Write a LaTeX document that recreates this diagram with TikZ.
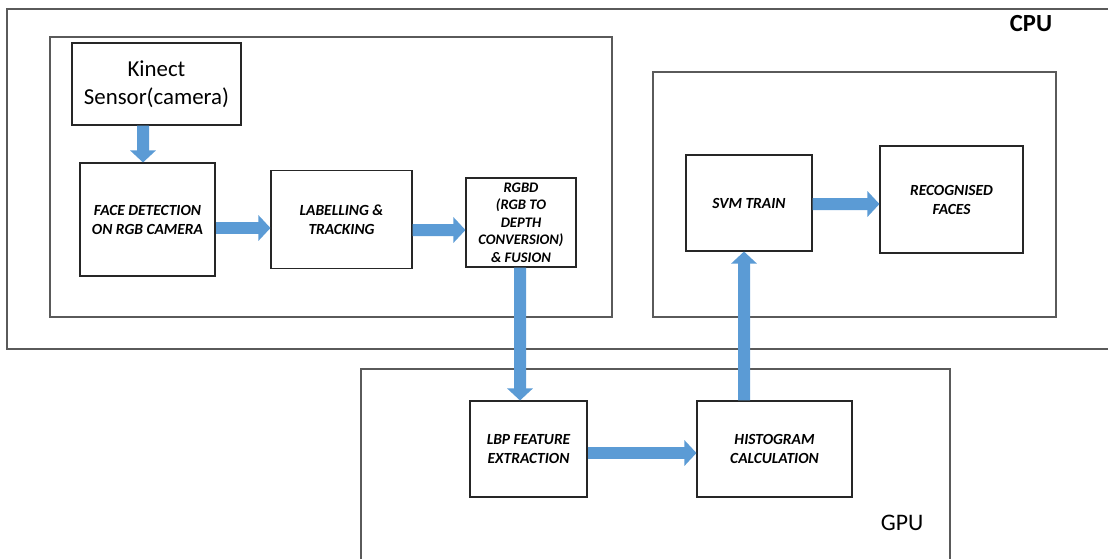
\documentclass[tikz,border=0pt]{standalone}
\usepackage{fontspec}
\setmainfont{Carlito}
\usetikzlibrary{arrows.meta}
\newlength\px
\setlength\px{0.02cm}
\definecolor{flowblue}{RGB}{91,155,213}
\definecolor{framegray}{RGB}{90,90,90}
\tikzset{
    frame/.style={draw=framegray,line width=0.7pt},
    box/.style={draw=black!85,line width=0.6pt,align=center,inner sep=1pt,
        font=\bfseries\itshape\fontsize{8.8}{10.8}\selectfont},
    flow/.style={draw=flowblue,line width=0.24cm,-{Triangle[length=0.24cm,width=0.5cm]}}
}
\begin{document}
\begin{tikzpicture}[x=0.02cm,y=-0.02cm]
        \useasboundingbox (0,0) rectangle (1108,559);
        \draw[frame] (1108,9) -- (7,9) -- (7,349) -- (1108,349);
        \draw[frame] (50,37) rectangle (612,317);
        \draw[frame] (653,72) rectangle (1056,317);
        \draw[frame] (361,559) -- (361,369) -- (950,369) -- (950,559);
        \node[font=\bfseries\fontsize{14}{16}\selectfont] (cpu) at (1031,24) {CPU};
        \node[font=\fontsize{13.5}{16}\selectfont] (gpu) at (902,523) {GPU};

        \node[box,minimum width=169\px,minimum height=82\px,font=\fontsize{13}{16}\selectfont] (kinect) at (156.5,84) {Kinect\\Sensor(camera)};
        \node[box,minimum width=135\px,minimum height=113\px] (face) at (147.5,219.5) {FACE DETECTION\\ON RGB CAMERA};
        \node[box,minimum width=141\px,minimum height=98\px] (label) at (341.5,219.5) {LABELLING \&\\TRACKING};
        \node[box,minimum width=110\px,minimum height=89\px,font=\bfseries\itshape\fontsize{8.3}{9.9}\selectfont] (rgbd) at (521,222.5) {RGBD\\(RGB TO\\DEPTH\\CONVERSION)\\\& FUSION};
        \node[box,minimum width=117\px,minimum height=96\px] (lbp) at (528.5,449) {LBP FEATURE\\EXTRACTION};
        \node[box,minimum width=155\px,minimum height=96\px] (hist) at (774.5,449) {HISTOGRAM\\CALCULATION};
        \node[box,minimum width=126\px,minimum height=96\px] (svm) at (749,203) {SVM TRAIN};
        \node[box,minimum width=143\px,minimum height=107\px] (recog) at (951.5,199.5) {RECOGNISED\\FACES};

        \draw[flow] ([xshift=-0.27cm]kinect.south) -- ([xshift=-0.09cm]face.north);
        \draw[flow] ([yshift=-0.17cm]face.east) -- ([yshift=-0.17cm]label.west);
        \draw[flow] ([yshift=-0.21cm]label.east) -- ([yshift=-0.15cm]rgbd.west);
        \draw[flow] ([xshift=-0.02cm]rgbd.south) -- ([xshift=-0.17cm]lbp.north);
        \draw[flow] ([yshift=-0.08cm]lbp.east) -- ([yshift=-0.08cm]hist.west);
        \draw[flow] ([xshift=-0.61cm]hist.north) -- ([xshift=-0.1cm]svm.south);
        \draw[flow] ([yshift=-0.02cm]svm.east) -- ([yshift=-0.09cm]recog.west);
\end{tikzpicture}
\end{document}
